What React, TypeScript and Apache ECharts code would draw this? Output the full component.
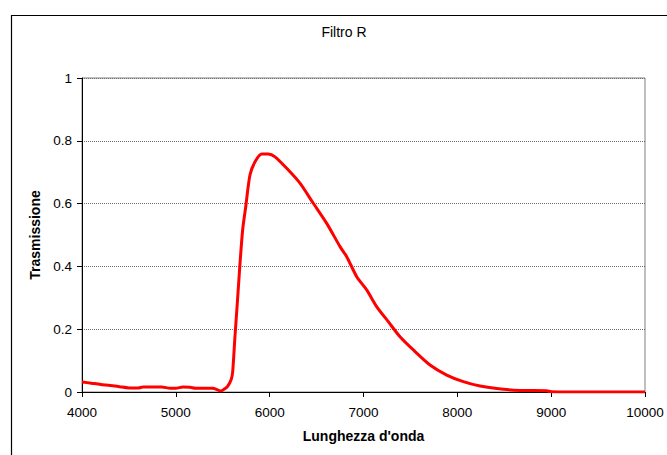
import React, { useEffect, useRef } from "react";
import * as echarts from "echarts";

// Filter R transmission curve: wavelength (Å) and transmission fraction
const wavelengths = [
  4000, 4100, 4200, 4300, 4400, 4500, 4600, 4650, 4750, 4850, 4940, 5000, 5075,
  5150, 5211, 5300, 5392, 5450, 5480, 5520, 5550, 5590, 5606, 5630, 5655, 5684,
  5712, 5745, 5790, 5844, 5915, 5985, 6057, 6199, 6323, 6465, 6608, 6750, 6821,
  6928, 7034, 7140, 7264, 7389, 7531, 7709, 7887, 8064, 8242, 8419, 8668, 8952,
  9000, 9500, 10000,
];
const transmission = [
  0.032, 0.028, 0.024, 0.021, 0.017, 0.013, 0.013, 0.016, 0.016, 0.016, 0.012,
  0.012, 0.016, 0.015, 0.012, 0.012, 0.012, 0.006, 0.003, 0.01, 0.017, 0.04,
  0.065, 0.176, 0.282, 0.41, 0.516, 0.59, 0.691, 0.733, 0.758, 0.758, 0.749,
  0.707, 0.665, 0.601, 0.537, 0.463, 0.431, 0.367, 0.325, 0.272, 0.224, 0.176,
  0.134, 0.086, 0.054, 0.033, 0.019, 0.011, 0.005, 0.004, 0.001, 0, 0,
];

const xTicks = { min: 4000, max: 10000, step: 1000 };
const yTicks = { min: 0, max: 1, step: 0.2 };

const FONT = "'Liberation Sans', Arial, sans-serif";

export default function App() {
  const ref = useRef<HTMLDivElement>(null);

  useEffect(() => {
    if (!ref.current) return;
    const chart = echarts.init(ref.current, undefined, { renderer: "svg" });
    const points = wavelengths.map((w, i) => [w, transmission[i]]);

    chart.setOption({
      animation: false,
      backgroundColor: "#ffffff",
      textStyle: { fontFamily: FONT },
      title: {
        text: "Filtro R",
        left: 344,
        top: 25,
        textAlign: "center",
        padding: 0,
        textStyle: {
          fontFamily: FONT,
          fontSize: 14,
          fontWeight: "normal",
          color: "#000",
        },
      },
      graphic: [
        {
          type: "rect",
          left: 9,
          top: 13,
          shape: { width: 720, height: 520 },
          style: { fill: "none", stroke: "#000", lineWidth: 1.2 },
          silent: true,
          z: 0,
        },
      ],
      grid: {
        left: 82,
        right: 22,
        top: 78,
        bottom: 63,
        show: true,
        borderColor: "#808080",
        borderWidth: 1,
        backgroundColor: "transparent",
      },
      xAxis: {
        type: "value",
        min: xTicks.min,
        max: xTicks.max,
        interval: xTicks.step,
        name: "Lunghezza d'onda",
        nameLocation: "middle",
        nameGap: 37,
        nameTextStyle: {
          fontFamily: FONT,
          fontSize: 14,
          fontWeight: "bold",
          color: "#000",
        },
        axisLine: { show: true, lineStyle: { color: "#000", width: 1 } },
        axisTick: { show: true, length: 5, lineStyle: { color: "#000" } },
        axisLabel: {
          fontFamily: FONT,
          fontSize: 13.5,
          color: "#000",
          margin: 13,
          formatter: (v: number) => String(v),
        },
        splitLine: { show: false },
      },
      yAxis: {
        type: "value",
        min: yTicks.min,
        max: yTicks.max,
        interval: yTicks.step,
        name: "Trasmissione",
        nameLocation: "middle",
        nameRotate: 90,
        nameGap: 33,
        nameTextStyle: {
          fontFamily: FONT,
          fontSize: 14,
          fontWeight: "bold",
          color: "#000",
        },
        axisLine: { show: true, lineStyle: { color: "#000", width: 1 } },
        axisTick: { show: true, length: 5, lineStyle: { color: "#000" } },
        axisLabel: {
          fontFamily: FONT,
          fontSize: 13.5,
          color: "#000",
          margin: 10,
        },
        splitLine: {
          show: true,
          lineStyle: { color: "#6e6e6e", width: 1, type: [1, 1] },
        },
      },
      series: [
        {
          type: "line",
          data: points,
          showSymbol: false,
          smooth: 0.25,
          lineStyle: { color: "#ff0000", width: 3 },
          itemStyle: { color: "#ff0000" },
          z: 3,
        },
      ],
    });

    return () => chart.dispose();
  }, []);

  return (
    <div
      ref={ref}
      style={{ position: "absolute", left: 0, top: 0, width: 667, height: 455 }}
    />
  );
}
